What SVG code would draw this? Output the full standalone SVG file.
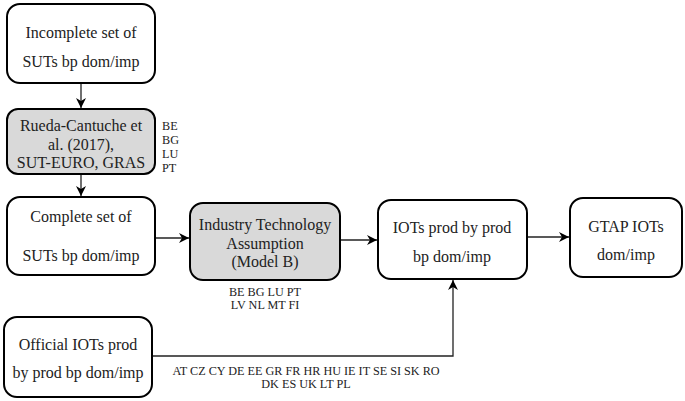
<svg xmlns="http://www.w3.org/2000/svg" width="685" height="401" viewBox="0 0 685 401">
<defs>
<style>
.box{fill:#fff;stroke:#000;stroke-width:2}
.gray{fill:#d9d9d9;stroke:#000;stroke-width:2}
.t{font-family:"Liberation Serif","Times New Roman",serif;font-size:16px;fill:#222;text-anchor:middle}
.s{font-family:"Liberation Serif","Times New Roman",serif;font-size:12.2px;fill:#222}
.c{fill:none;stroke:#222;stroke-width:1.3}
</style>
<marker id="ah" markerWidth="12" markerHeight="10" refX="10" refY="5" orient="auto" markerUnits="userSpaceOnUse">
<path d="M0,0 L10,5 L0,10 L3,5 Z" fill="#000"/>
</marker>
</defs>
<g id="connectors">
<line class="c" x1="81" y1="84" x2="81" y2="108" marker-end="url(#ah)"/>
<line class="c" x1="81" y1="175" x2="81" y2="196" marker-end="url(#ah)"/>
<line class="c" x1="156" y1="238" x2="189" y2="238" marker-end="url(#ah)"/>
<line class="c" x1="341" y1="240" x2="377" y2="240" marker-end="url(#ah)"/>
<line class="c" x1="528" y1="237" x2="569" y2="237" marker-end="url(#ah)"/>
<polyline class="c" points="153,356 453,356 453,280" marker-end="url(#ah)"/>
</g>
<g id="n1">
<rect class="box" x="7" y="4" width="148" height="79" rx="13"/>
<text class="t" x="81" y="38">Incomplete set of</text>
<text class="t" x="81" y="67">SUTs bp dom/imp</text>
</g>
<g id="n2">
<rect class="gray" x="7" y="109" width="148" height="65" rx="11"/>
<text class="t" x="81" y="131">Rueda-Cantuche et</text>
<text class="t" x="81" y="150">al. (2017),</text>
<text class="t" x="81" y="168">SUT-EURO, GRAS</text>
<text class="s" x="162" y="130">BE</text>
<text class="s" x="162" y="144">BG</text>
<text class="s" x="162" y="158">LU</text>
<text class="s" x="162" y="172">PT</text>
</g>
<g id="n3">
<rect class="box" x="7" y="197" width="148" height="78" rx="13"/>
<text class="t" x="81" y="222">Complete set of</text>
<text class="t" x="81" y="261">SUTs bp dom/imp</text>
</g>
<g id="n4">
<rect class="gray" x="190" y="203" width="150" height="77" rx="13"/>
<text class="t" x="265" y="230">Industry Technology</text>
<text class="t" x="265" y="249">Assumption</text>
<text class="t" x="265" y="267">(Model B)</text>
<text class="s" x="265" y="296" text-anchor="middle">BE BG LU PT</text>
<text class="s" x="265" y="309" text-anchor="middle">LV NL MT FI</text>
</g>
<g id="n5">
<rect class="box" x="378" y="200" width="149" height="79" rx="13"/>
<text class="t" x="452" y="233">IOTs prod by prod</text>
<text class="t" x="452" y="262">bp dom/imp</text>
</g>
<g id="n6">
<rect class="box" x="570" y="198" width="112" height="79" rx="13"/>
<text class="t" x="626" y="232">GTAP IOTs</text>
<text class="t" x="626" y="260">dom/imp</text>
</g>
<g id="n7">
<rect class="box" x="4" y="317" width="148" height="80" rx="13"/>
<text class="t" x="78" y="350">Official IOTs prod</text>
<text class="t" x="78" y="378">by prod bp dom/imp</text>
<text class="s" x="306" y="375" text-anchor="middle">AT CZ CY DE EE GR FR HR HU IE IT SE SI SK RO</text>
<text class="s" x="306" y="388" text-anchor="middle">DK ES UK LT PL</text>
</g>
</svg>
